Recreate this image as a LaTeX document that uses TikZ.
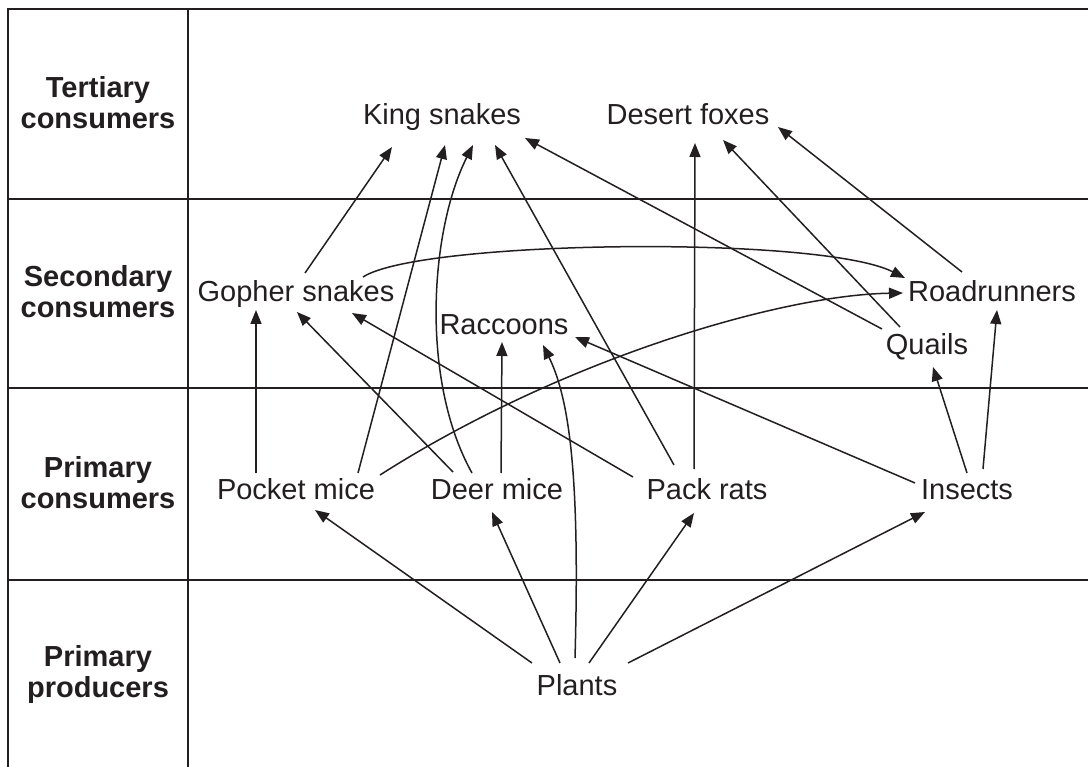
\documentclass[tikz,border=0pt]{standalone}
\usepackage{fontspec}
\setmainfont{Liberation Sans}
\usetikzlibrary{arrows.meta}
\definecolor{ink}{HTML}{231F20}
\begin{document}
\begin{tikzpicture}[x=1pt,y=-1pt,
  grid/.style={draw=ink, line width=1.3pt},
  lbl/.style={font=\fontsize{29}{31}\selectfont, text=ink, inner sep=0pt, anchor=base},
  head/.style={font=\fontsize{29}{31}\selectfont\bfseries, text=ink, inner sep=0pt, align=center, anchor=center},
  arr/.style={draw=ink, line width=1.5pt, -{Triangle[length=14pt,width=11pt]}}]
\useasboundingbox (0,0) rectangle (1088,767);
% table
\draw[grid] (1088,9) -- (8,9) -- (8,767);
\draw[grid] (188,9) -- (188,767);
\draw[grid] (8,199) -- (1088,199);
\draw[grid] (8,388) -- (1088,388);
\draw[grid] (8,580) -- (1088,580);
% row headings
\node[head] (h1) at (98,102.5) {Tertiary\\consumers};
\node[head] (h2) at (98,292) {Secondary\\consumers};
\node[head] (h3) at (98,482.5) {Primary\\consumers};
\node[head] (h4) at (98,675) {Primary\\producers};
% organisms
\node[lbl] (KS) at (442,125) {King snakes};
\node[lbl] (DF) at (688,125) {Desert foxes};
\node[lbl] (GS) at (296,302) {Gopher snakes};
\node[lbl] (RC) at (504,335) {Raccoons};
\node[lbl] (RR) at (992,302) {Roadrunners};
\node[lbl] (QU) at (927,355) {Quails};
\node[lbl] (PM) at (296,500) {Pocket mice};
\node[lbl] (DM) at (497,500) {Deer mice};
\node[lbl] (PR) at (707,500) {Pack rats};
\node[lbl] (IN) at (967,500) {Insects};
\node[lbl] (PL) at (577,695) {Plants};
% to king snakes
\draw[arr] ([shift={(9,-29)}]GS.base) -- ([shift={(-50,22)}]KS.base);
\draw[arr] ([shift={(62,-27)}]PM.base) -- ([shift={(3,20)}]KS.base);
\draw[arr] ([shift={(-25,-27)}]DM.base) .. controls +(-52,-93) and +(-43,85) .. ([shift={(31,20)}]KS.base);
\draw[arr] ([shift={(-33,-35)}]PR.base) -- ([shift={(53,20)}]KS.base);
\draw[arr] ([shift={(-45,-26)}]QU.base) -- ([shift={(83,13)}]KS.base);
% to desert foxes
\draw[arr] ([shift={(-13,-31)}]PR.base) -- ([shift={(7,18)}]DF.base);
\draw[arr] ([shift={(-27,-28)}]QU.base) -- ([shift={(35,15)}]DF.base);
\draw[arr] ([shift={(-30,-30)}]RR.base) -- ([shift={(90,2)}]DF.base);
% to roadrunners
\draw[arr] ([shift={(67,-25)}]GS.base) .. controls +(57,-37) and +(-85,-43) .. ([shift={(-87,-24)}]RR.base);
\draw[arr] ([shift={(84,-25)}]PM.base) .. controls +(180,-115) and +(-123,2) .. ([shift={(-89,-9)}]RR.base);
\draw[arr] ([shift={(16,-31)}]IN.base) -- ([shift={(5,8)}]RR.base);
% to gopher snakes
\draw[arr] ([shift={(-40,-27)}]PM.base) -- ([shift={(-40,8)}]GS.base);
\draw[arr] ([shift={(-44,-28)}]DM.base) -- ([shift={(1,10)}]GS.base);
\draw[arr] ([shift={(-74,-23)}]PR.base) -- ([shift={(56,11)}]GS.base);
% to raccoons
\draw[arr] ([shift={(4,-27)}]DM.base) -- ([shift={(-2,7)}]RC.base);
\draw[arr] ([shift={(-2,-37)}]PL.base) .. controls +(5,-178) and +(27,55) .. ([shift={(39,10)}]RC.base);
\draw[arr] ([shift={(-52,-17)}]IN.base) -- ([shift={(71,2)}]RC.base);
% to quails
\draw[arr] ([shift={(0,-27)}]IN.base) -- ([shift={(6,12)}]QU.base);
% from plants
\draw[arr] ([shift={(-45,-32)}]PL.base) -- ([shift={(19,10)}]PM.base);
\draw[arr] ([shift={(-17,-32)}]PL.base) -- ([shift={(-5,12)}]DM.base);
\draw[arr] ([shift={(12,-32)}]PL.base) -- ([shift={(-13,13)}]PR.base);
\draw[arr] ([shift={(51,-32)}]PL.base) -- ([shift={(-42,12)}]IN.base);
\end{tikzpicture}
\end{document}
